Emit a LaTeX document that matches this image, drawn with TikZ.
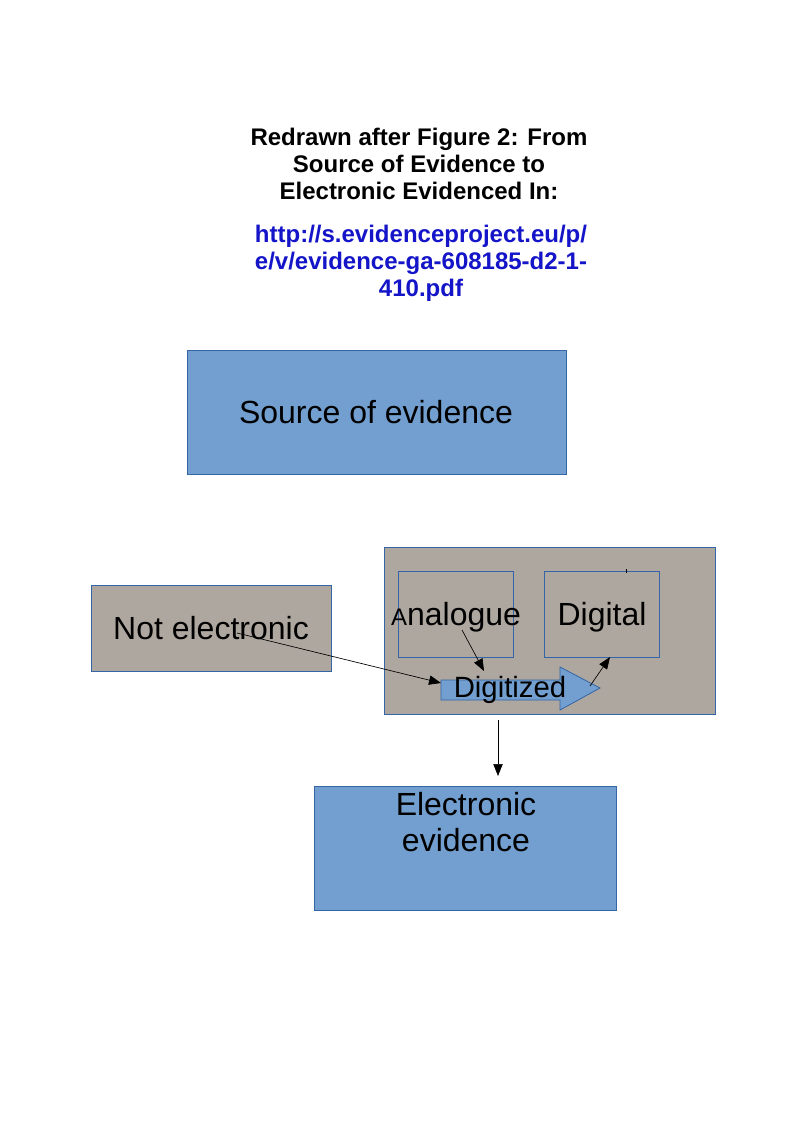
\documentclass[tikz,border=0pt]{standalone}
\usepackage{fontspec}
\setmainfont{Liberation Sans}
\usepackage{tikz}
\usetikzlibrary{arrows.meta}

\definecolor{boxblue}{HTML}{729FCF}
\definecolor{lineblue}{HTML}{3465A4}
\definecolor{boxgray}{RGB}{174,167,159}
\definecolor{urlblue}{RGB}{20,20,200}

\begin{document}
\begin{tikzpicture}[x=0.75pt,y=-0.75pt]
    \tikzset{bluebox/.style = {shape=rectangle,draw=lineblue,fill=boxblue,line width=0.6pt,inner sep=0pt}}
    \tikzset{graybox/.style = {shape=rectangle,draw=lineblue,fill=boxgray,line width=0.6pt,inner sep=0pt}}
    \tikzset{framebox/.style = {shape=rectangle,draw=lineblue,line width=0.6pt,inner sep=0pt}}
    \tikzset{label2/.style = {shape=rectangle,draw=none,inner sep=0pt,font=\fontsize{24}{27.5}\selectfont}}
    \tikzset{edge/.style = {-{Triangle[length=9pt,width=7pt]},line width=0.5pt}}

    \useasboundingbox[fill=white] (0,0) rectangle (794,1123);

    % heading
    \node[align=center,font=\fontsize{18}{20.25}\selectfont\bfseries] (t) at (419,164)
        {Redrawn after Figure 2: From\\Source of Evidence to\\Electronic Evidenced In:};
    \node[align=center,text=urlblue,font=\fontsize{18}{20.25}\selectfont\bfseries] (u) at (421,263)
        {http://s.evidenceproject.eu/p/\\e/v/evidence-ga-608185-d2-1-\\410.pdf};

    % vertices
    \node[bluebox,minimum width=284.25pt,minimum height=93pt] (s) at (376.5,412) {};
    \node[label2] (sl) at (376,412) {Source of evidence};

    \node[graybox,minimum width=248.25pt,minimum height=125.25pt] (c) at (549.5,630.5) {};
    \node[graybox,minimum width=180pt,minimum height=64.5pt] (n) at (211,628) {};
    \node[label2] (nl) at (211,628) {Not electronic};

    \node[framebox,minimum width=86.25pt,minimum height=64.5pt] (a) at (455.5,614) {};
    \node[label2] (al) at (456,617) {{\fontsize{18}{20}\selectfont A}nalogue};
\node[framebox,minimum width=86.25pt,minimum height=64.5pt] (d) at (601.5,614) {};
    \node[label2] (dl) at (602,617) {Digital};
    \draw[line width=0.6pt] (626,569) -- (626,573);

    \fill[boxblue,draw=lineblue,line width=0.6pt] (441,680) -- (560,680) -- (560,667) -- (600,688)
        -- (560,710) -- (560,700) -- (441,700) -- cycle;
    \node[label2,font=\fontsize{22}{25}\selectfont] (g) at (510,690) {Digitized};

    \node[bluebox,minimum width=226.5pt,minimum height=93pt] (e) at (465,848) {};
    \node[label2,align=center] (el) at (466,822) {Electronic\\evidence};

    % ends
    \coordinate (n1) at (237,633);
    \coordinate (g1) at (441,683);
    \coordinate (a1) at (462,630);
    \coordinate (g2) at (484,671);
    \coordinate (g3) at (590,686);
    \coordinate (d1) at (610,657);
    \coordinate (c1) at (498,720);
    \coordinate (e1) at (498,776);

       %edges
    \draw[edge] (n1) to (g1);
    \draw[edge] (a1) to (g2);
    \draw[edge] (g3) to (d1);
    \draw[edge] (c1) to (e1);
\end{tikzpicture}
\end{document}
